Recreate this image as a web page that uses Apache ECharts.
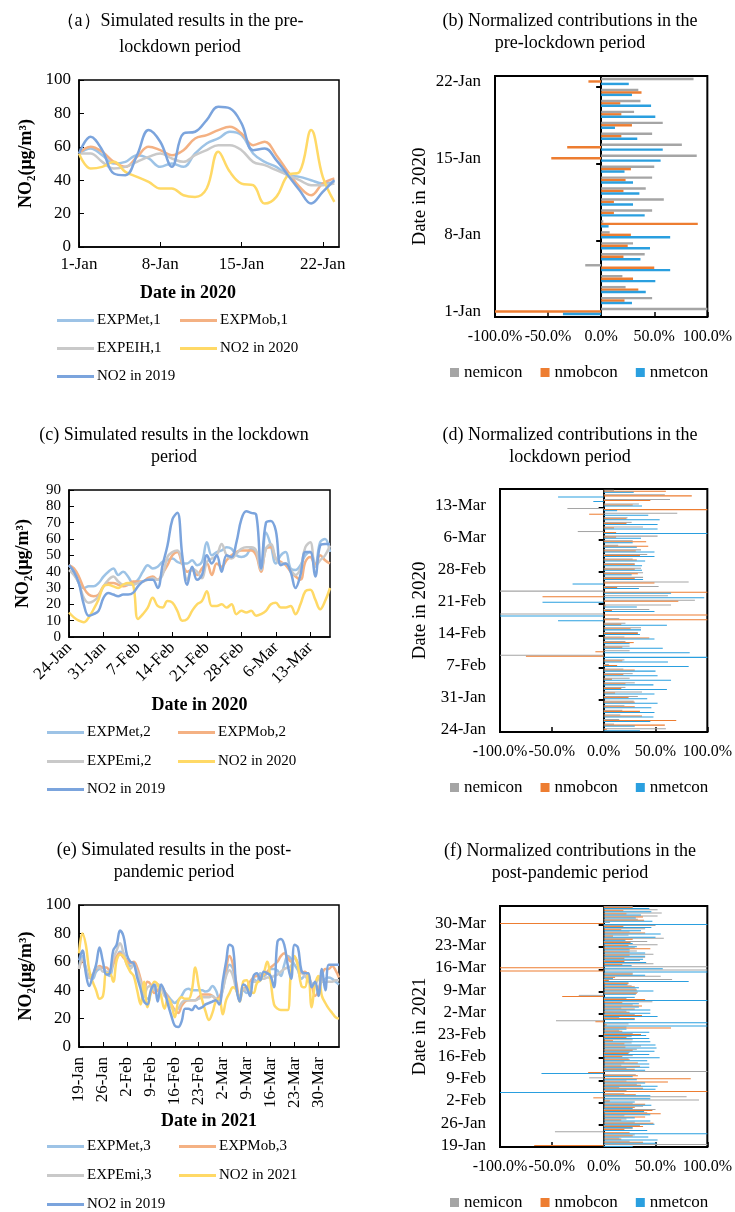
<!DOCTYPE html>
<html>
<head>
<meta charset="utf-8">
<script src="https://cdn.jsdelivr.net/npm/echarts@6/dist/echarts.min.js"></script>
<style>
  html, body { margin: 0; padding: 0; background: #fff; }
  #chart { width: 735px; height: 1212px; }
</style>
</head>
<body>
<div id="chart"></div>
<script>
// ---- (a) pre-lockdown, daily from 1-Jan-2020
const aTicks = ['1-Jan', '8-Jan', '15-Jan', '22-Jan'];
const aMet = [56,59,55,50,51,55,53,48,50,48,56,62,65,69,67,56,51,48,43,42,40,38,39];
const aMob = [56,60,57,51,48,54,60,58,55,58,65,67,70,72,68,61,63,55,45,36,31,38,41];
const aEih = [56,56,51,47,48,51,54,56,53,51,55,58,61,61,58,51,49,46,43,40,37,37,38];
const aNo20 = [56,47,48,51,45,42,39,35,35,31,30,35,57,45,38,37,26,30,43,45,70,42,27];
const aNo19 = [56,66,58,44,43,55,70,63,48,68,69,76,84,83,74,58,59,52,43,34,26,33,40];

// ---- (b) normalized contributions (%), 1-Jan .. 22-Jan 2020
const bEmi = [100,48,23,20,-15,41,30,8,2,48,59,42,48,50,90,76,48,58,31,37,35,87];
const bMob = [-100,22,35,30,50,21,25,28,91,12,12,21,23,28,-47,-32,19,29,19,18,38,-12];
const bMet = [-36,29,42,51,65,37,46,65,7,41,30,36,30,22,56,58,34,13,51,47,29,26];

// ---- (c) lockdown, daily from 24-Jan-2020
const cTicks = ['24-Jan', '31-Jan', '7-Feb', '14-Feb', '21-Feb', '28-Feb', '6-Mar', '13-Mar'];
const cMet = [44,40,33,30,31,31,33,37,40,42,38,40,37,33,35,40,44,42,43,46,47,48,46,45,45,47,44,46,58,50,52,53,55,54,50,49,50,54,52,43,64,56,45,50,52,42,41,44,50,52,44,58,60,52];
const cMob = [44,42,37,30,26,25,26,31,33,33,32,31,32,34,34,34,36,37,35,39,44,50,52,45,40,41,38,42,45,38,45,43,47,50,52,53,53,53,50,40,54,55,48,46,44,40,37,35,46,49,44,50,47,45];
const cEmi = [41,38,33,24,21,22,25,31,35,37,34,32,32,32,33,34,35,36,35,38,49,52,53,46,35,42,40,36,46,48,50,57,50,48,51,54,55,55,53,41,54,57,48,45,45,41,38,42,55,58,43,47,50,56];
const cNo20 = [15,12,10,9,12,17,23,31,32,31,30,32,33,32,11,14,18,24,19,18,22,21,16,10,11,16,20,22,28,19,19,20,18,20,14,16,15,16,13,14,16,20,21,18,18,19,14,20,28,29,23,17,22,30];
const cNo19 = [44,40,33,20,13,14,16,24,27,26,25,26,26,27,31,34,35,35,30,44,56,72,76,50,32,43,35,38,50,45,50,40,50,49,58,72,77,76,75,42,70,71,65,44,45,40,30,38,52,52,37,56,57,57];

// ---- (d) normalized contributions (%), 24-Jan .. 16-Mar 2020
const dEmi = [60,10,15,16,18,20,29,33,37,21,30,25,28,19,5,20,-100,25,25,21,20,33,36,21,15,-100,44,65,88,62,-100,53,82,38,38,36,30,28,42,36,14,28,52,-25,38,27,23,71,-35,34,64,59,10];
const dMob = [3,59,70,37,35,30,30,24,11,17,21,8,19,30,13,18,-75,-8,18,29,44,33,26,17,100,100,8,2,72,-59,100,13,49,30,33,30,30,32,35,31,43,41,12,12,10,22,22,-14,100,28,45,85,60];
const dMet = [35,30,45,48,49,46,52,42,49,61,48,65,52,50,82,62,100,83,57,25,49,35,36,61,-44,-100,49,32,-59,97,65,34,-30,38,27,37,37,40,49,49,32,28,36,100,52,52,54,43,13,37,-10,-44,29];

// ---- (e) post-pandemic, daily from 19-Jan-2021
const eTicks = ['19-Jan', '26-Jan', '2-Feb', '9-Feb', '16-Feb', '23-Feb', '2-Mar', '9-Mar', '16-Mar', '23-Mar', '30-Mar'];
const eMet = [56,64,56,49,48,53,55,56,52,50,58,62,67,66,60,57,58,51,45,37,34,38,43,44,42,39,36,33,31,33,36,40,41,40,40,40,40,39,40,43,40,34,40,52,58,55,42,33,40,38,42,48,46,52,50,52,55,55,54,50,58,64,62,58,54,48,50,47,44,44,41,47,48,49,48,46,44];
const eMob = [55,61,54,49,51,55,57,56,56,54,59,64,66,63,61,59,60,56,48,40,46,44,38,40,43,39,35,30,26,24,29,32,33,33,33,35,37,37,37,36,34,35,42,55,64,58,45,35,41,42,46,49,50,50,51,53,56,58,60,64,66,63,60,63,58,52,53,50,44,36,40,50,55,55,57,54,49];
const eEmi = [55,62,55,49,50,56,56,53,53,53,62,68,73,66,58,55,58,53,46,36,42,43,40,44,42,36,34,28,26,27,31,33,33,33,33,34,35,35,35,36,34,33,40,50,54,50,40,35,41,40,44,46,46,48,48,49,49,50,51,53,55,56,57,63,59,53,50,48,45,44,48,46,46,46,46,47,47];
const eNo21 = [66,80,72,54,46,40,34,36,52,52,46,61,65,64,58,53,50,40,30,46,28,38,46,44,36,27,34,30,21,32,35,34,34,40,56,43,33,25,19,24,32,34,23,33,38,42,40,32,46,47,40,38,45,47,52,60,47,30,27,26,26,26,54,64,57,43,42,52,28,44,50,36,31,27,24,21,20];
const eNo19 = [61,68,52,43,50,58,70,60,51,52,68,72,82,78,65,60,59,49,41,32,30,40,44,32,44,39,30,22,15,14,18,27,27,26,29,27,28,30,31,32,33,30,46,60,72,70,42,32,44,42,36,50,52,47,53,52,50,42,74,76,72,58,48,72,70,54,52,52,42,46,36,55,40,58,58,58,58];

// ---- (f) normalized contributions (%), 19-Jan .. 4-Apr 2021
const fEmi = [100,25,15,30,-47,28,35,30,22,20,42,50,38,28,92,80,20,22,15,32,22,-14,31,100,22,17,20,24,28,25,32,36,27,28,27,28,15,22,24,-46,15,30,22,17,28,47,22,-24,33,31,27,24,66,55,28,100,100,48,35,40,48,32,30,52,42,58,24,25,40,50,6,33,52,56,52,28];
const fMob = [-67,38,17,28,25,20,38,48,17,40,55,47,30,40,6,-10,31,100,38,36,62,84,33,-15,30,35,33,25,18,24,28,21,20,9,22,36,18,65,3,-8,30,37,25,30,37,18,40,-40,32,32,30,24,5,11,28,-100,-100,18,20,20,25,25,45,24,26,28,9,40,17,19,-100,39,38,22,19,28];
const fMet = [28,51,52,43,100,42,28,49,45,30,45,39,28,46,30,45,45,-100,50,52,40,32,28,-60,40,44,44,42,54,44,49,51,50,45,44,41,44,22,100,100,30,52,45,45,34,34,100,30,31,48,34,23,82,9,40,100,57,27,41,38,40,40,25,32,28,21,50,55,36,46,100,47,31,36,46,44];

const MONTHS = ['Jan', 'Feb', 'Mar', 'Apr'];
function dayLabels(year, month, day, n) {
  const out = [];
  for (let i = 0; i < n; i++) {
    const d = new Date(year, month, day + i);
    out.push(d.getDate() + '-' + MONTHS[d.getMonth()]);
  }
  return out;
}
const bDays = dayLabels(2020, 0, 1, bEmi.length);
const dDays = dayLabels(2020, 0, 24, dEmi.length);
const fDays = dayLabels(2021, 0, 19, fEmi.length);

const SERIF = '"Liberation Serif", "Times New Roman", serif';
const C = {
  met: '#9dc3e6', mob: '#f4b183', emi: '#c9c9c9', no2: '#ffd966', y19: '#7ba4dd',
  gray: '#a5a5a5', orange: '#ed7d31', blue: '#2a9fdf'
};
const NO2_NAME = 'NO\u2082(\u03bcg/m\u00b3)';

const grids = [], xAxes = [], yAxes = [], series = [], legends = [], titles = [];

function addTitle(text, cx, top, lh) {
  titles.push({
    text, left: cx, top, textAlign: 'center', padding: 0,
    textStyle: { fontFamily: SERIF, fontSize: 18, fontWeight: 'normal', color: '#000', lineHeight: lh || 22 }
  });
}

function lineLegend(name, left, cy) {
  legends.push({
    data: [name], left, top: cy - 8, padding: 0, icon: 'rect',
    itemWidth: 37, itemHeight: 3, selectedMode: false,
    textStyle: { fontFamily: SERIF, fontSize: 15, color: '#000', padding: [0, 0, 0, -2] }
  });
}

// one line panel
function linePanel(p) {
  const gi = grids.length;
  grids.push({ left: p.box[0], top: p.box[1], width: p.box[2], height: p.box[3],
    show: true, borderColor: '#000', borderWidth: 1.5 });
  xAxes.push({
    gridIndex: gi, type: 'value', min: 0, max: p.xMax, interval: 7,
    axisLine: { show: true, onZero: false, lineStyle: { color: '#000', width: 1.5 } },
    axisTick: { show: true, inside: true, length: 5, lineStyle: { color: '#000' } },
    splitLine: { show: false },
    axisLabel: {
      fontFamily: SERIF, fontSize: 17, color: '#000', rotate: p.rotate || 0, margin: p.xMargin || 9,
      showMinLabel: true, showMaxLabel: false,
      formatter: v => { const k = Math.round(v / 7); return Math.abs(v - 7 * k) < 1e-6 ? (p.ticks[k] || '') : ''; }
    },
    name: p.xName, nameLocation: 'middle', nameGap: p.xGap,
    nameTextStyle: { fontFamily: SERIF, fontSize: 18, fontWeight: 'bold', color: '#000', padding: p.xPad || 0 }
  });
  const yi = yAxes.length;
  yAxes.push({
    gridIndex: gi, type: 'value', min: 0, max: p.yMax, interval: p.yStep,
    axisLine: { show: true, onZero: false, lineStyle: { color: '#000', width: 1.5 } },
    axisTick: { show: true, inside: true, length: 5, lineStyle: { color: '#000' } },
    splitLine: { show: false },
    axisLabel: { fontFamily: SERIF, fontSize: p.yFont || 17, lineHeight: p.yFont || 17, color: '#000', margin: 8,
      showMinLabel: true, showMaxLabel: true, hideOverlap: false },
    name: NO2_NAME, nameLocation: 'middle', nameRotate: 90, nameGap: p.yGap,
    nameTextStyle: { fontFamily: SERIF, fontSize: 18, fontWeight: 'bold', color: '#000' }
  });
  p.lines.forEach(([name, data, color]) => {
    series.push({
      type: 'line', name, xAxisIndex: gi, yAxisIndex: yi,
      data: data.map((v, i) => [i, v]),
      smooth: 0.4, showSymbol: false, symbol: 'none',
      lineStyle: { color, width: 2.5 }, itemStyle: { color }
    });
  });
  const [r1, r2, r3] = p.legendRows;
  lineLegend(p.lines[0][0], p.legendX[0], r1);
  lineLegend(p.lines[1][0], p.legendX[1], r1);
  lineLegend(p.lines[2][0], p.legendX[0], r2);
  lineLegend(p.lines[3][0], p.legendX[1], r2);
  lineLegend(p.lines[4][0], p.legendX[0], r3);
}

// one bar panel
function barPanel(p) {
  const gi = grids.length;
  grids.push({ left: p.box[0], top: p.box[1], width: p.box[2], height: p.box[3],
    show: true, borderColor: '#000', borderWidth: 2 });
  xAxes.push({
    gridIndex: gi, type: 'value', min: -100, max: 100, interval: 50,
    axisLine: { show: false, onZero: false },
    axisTick: { show: true, inside: true, length: 5, lineStyle: { color: '#000', width: 1.5 } },
    splitLine: { show: false },
    axisLabel: { fontFamily: SERIF, fontSize: 16, color: '#000', margin: 12,
      showMinLabel: true, showMaxLabel: true, hideOverlap: false,
      formatter: v => v.toFixed(1) + '%' }
  });
  const yi = yAxes.length;
  yAxes.push({
    gridIndex: gi, type: 'category', data: p.cats, position: 'left',
    axisLine: { show: false, onZero: false }, axisTick: { show: false },
    axisLabel: { fontFamily: SERIF, fontSize: 17, color: '#000', interval: 6, margin: 14 },
    name: p.yName, nameLocation: 'middle', nameRotate: 90, nameGap: p.yGap,
    nameTextStyle: { fontFamily: SERIF, fontSize: 19, color: '#000' }
  });
  yAxes.push({
    gridIndex: gi, type: 'category', data: p.cats, position: 'left',
    axisLine: { show: true, onZero: true, lineStyle: { color: '#000', width: 2 } },
    axisTick: { show: true, interval: 6, length: 5, lineStyle: { color: '#000', width: 2 } },
    axisLabel: { show: false }
  });
  [['nemicon', p.emi, C.gray], ['nmobcon', p.mob, C.orange], ['nmetcon', p.met, C.blue]]
    .forEach(([name, data, color]) => {
      series.push({
        type: 'bar', name, xAxisIndex: gi, yAxisIndex: yi, data,
        barGap: '0%', barCategoryGap: '33%', itemStyle: { color }
      });
    });
  legends.push({
    data: ['nemicon', 'nmobcon', 'nmetcon'], left: 450, top: p.legendY - 9, padding: 0,
    icon: 'rect', itemWidth: 9, itemHeight: 9, itemGap: 18, selectedMode: false,
    textStyle: { fontFamily: SERIF, fontSize: 17, color: '#000' }
  });
}

addTitle('\uff08a\uff09Simulated results in the pre-\nlockdown period', 180, 8, 26);
addTitle('(b) Normalized contributions in the\npre-lockdown period', 570, 10);
addTitle('(c) Simulated results in the lockdown\nperiod', 174, 424);
addTitle('(d) Normalized contributions in the\nlockdown period', 570, 424);
addTitle('(e) Simulated results in the post-\npandemic period', 174, 839);
addTitle('(f) Normalized contributions in the\npost-pandemic period', 570, 840);

linePanel({
  box: [79, 80, 260, 167], xMax: 22.4, ticks: aTicks, yMax: 100, yStep: 20,
  xName: 'Date in 2020', xGap: 37, xPad: [0, 42, 0, 0], yGap: 44,
  lines: [['EXPMet,1', aMet, C.met], ['EXPMob,1', aMob, C.mob], ['EXPEIH,1', aEih, C.emi],
          ['NO2 in 2020', aNo20, C.no2], ['NO2 in 2019', aNo19, C.y19]],
  legendX: [57, 180], legendRows: [321, 349, 377]
});
barPanel({ box: [495, 76, 215, 241], cats: bDays, yName: 'Date in 2020', yGap: 65,
  emi: bEmi, mob: bMob, met: bMet, legendY: 373 });

linePanel({
  box: [69, 490, 261, 147], xMax: 53, ticks: cTicks, rotate: 45, xMargin: 8, yMax: 90, yStep: 10, yFont: 15,
  xName: 'Date in 2020', xGap: 59, yGap: 37,
  lines: [['EXPMet,2', cMet, C.met], ['EXPMob,2', cMob, C.mob], ['EXPEmi,2', cEmi, C.emi],
          ['NO2 in 2020', cNo20, C.no2], ['NO2 in 2019', cNo19, C.y19]],
  legendX: [47, 178], legendRows: [733, 762, 790]
});
barPanel({ box: [500, 489, 211, 243], cats: dDays, yName: 'Date in 2020', yGap: 70,
  emi: dEmi, mob: dMob, met: dMet, legendY: 788 });

linePanel({
  box: [79, 905, 260, 142], xMax: 76, ticks: eTicks, rotate: 90, xMargin: 10, yMax: 100, yStep: 20,
  xName: 'Date in 2021', xGap: 64, yGap: 44,
  lines: [['EXPMet,3', eMet, C.met], ['EXPMob,3', eMob, C.mob], ['EXPEmi,3', eEmi, C.emi],
          ['NO2 in 2021', eNo21, C.no2], ['NO2 in 2019', eNo19, C.y19]],
  legendX: [47, 179], legendRows: [1147, 1176, 1205]
});
barPanel({ box: [500, 906, 210, 241], cats: fDays, yName: 'Date in 2021', yGap: 70,
  emi: fEmi, mob: fMob, met: fMet, legendY: 1203 });

const chart = echarts.init(document.getElementById('chart'));
chart.setOption({
  animation: false,
  backgroundColor: '#fff',
  title: titles,
  legend: legends,
  grid: grids,
  xAxis: xAxes,
  yAxis: yAxes,
  series: series
});
</script>
</body>
</html>
